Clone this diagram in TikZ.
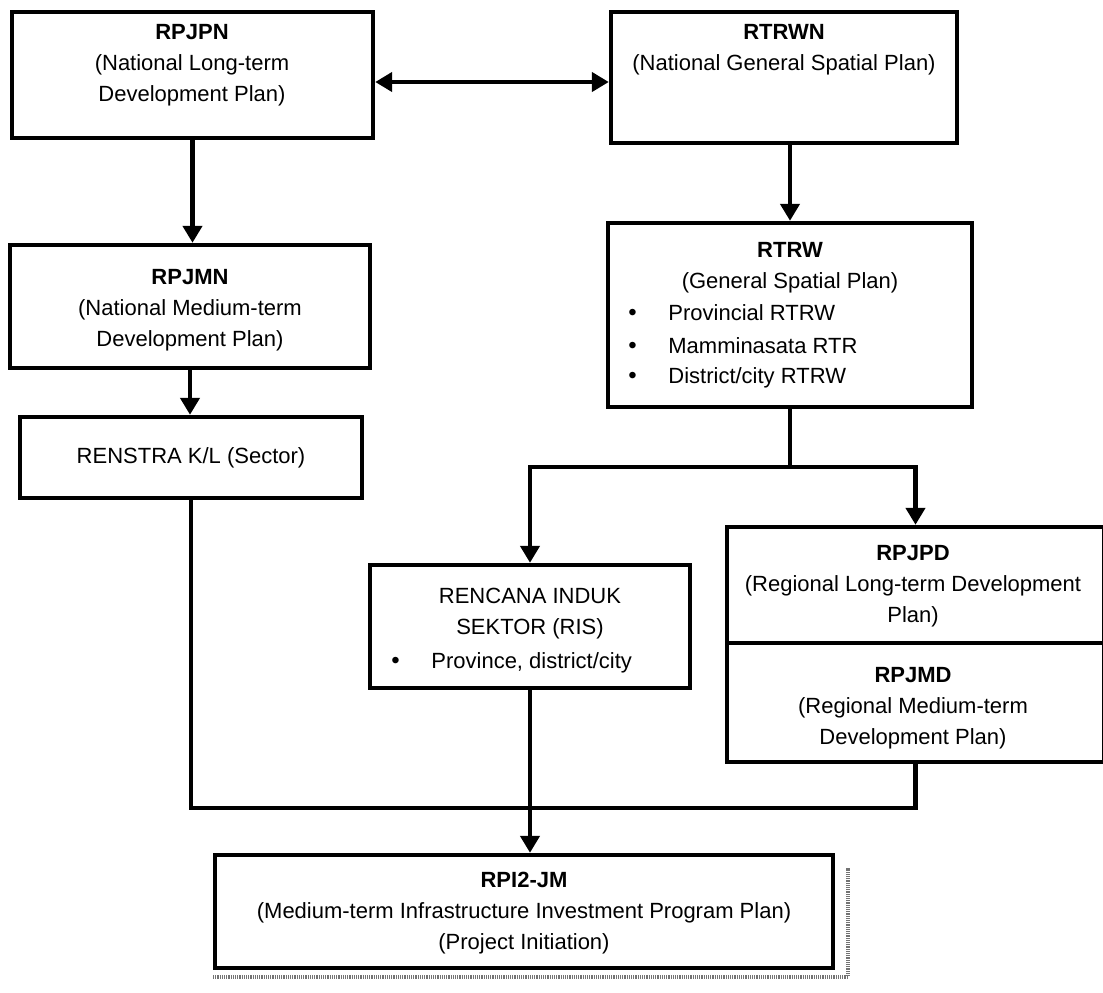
\documentclass[tikz,border=0pt]{standalone}
\usepackage{fontspec}
\setmainfont{Liberation Sans}
\usetikzlibrary{arrows.meta}
\newcommand{\bulletitem}[1]{\makebox[20pt][l]{\raisebox{0.2pt}{\fontsize{12}{15.5}\selectfont•}}#1}
\begin{document}
\begin{tikzpicture}[x=0.5pt,y=-0.5pt,
  box/.style={draw, line width=2.2pt, inner sep=0pt, fill=white},
  txt/.style={align=center, font=\fontsize{11}{15.5}\selectfont, inner sep=0pt},
  item/.style={anchor=west, font=\fontsize{11}{15.5}\selectfont, inner sep=0pt},
  link/.style={line width=2.2pt, line join=miter},
  arr/.style={link, -{Triangle[length=8.5pt,width=9.5pt]}},
  shade/.style={black!55, line width=2.4pt, dash pattern=on 0.6pt off 0.5pt},
]
\useasboundingbox (0,0) rectangle (1103,992);

% national level
\node[box, minimum width=180.5pt, minimum height=63pt] (rpjpn) at (192.5,75) {};
\node[txt] (rpjpnT) at (192,65) {\textbf{RPJPN}\\(National Long-term\\Development Plan)};

\node[box, minimum width=173pt, minimum height=65.5pt] (rtrwn) at (784,77.5) {};
\node[txt] (rtrwnT) at (784,50) {\textbf{RTRWN}\\(National General Spatial Plan)};

\node[box, minimum width=180pt, minimum height=61.5pt] (rpjmn) at (190,306.5) {};
\node[txt] (rpjmnT) at (190,310) {\textbf{RPJMN}\\(National Medium-term\\Development Plan)};

\node[box, minimum width=171pt, minimum height=40.5pt] (renstra) at (191,457.5) {};
\node[txt] (renstraT) at (191,458) {RENSTRA K/L (Sector)};

% spatial plans
\node[box, minimum width=182pt, minimum height=92pt] (rtrw) at (790,315) {};
\node[txt] (rtrwT) at (790,268) {\textbf{RTRW}\\(General Spatial Plan)};
\node[item] (rtrwI1) at (628,313) {\bulletitem{Provincial RTRW}};
\node[item] (rtrwI2) at (628,346) {\bulletitem{Mamminasata RTR}};
\node[item] (rtrwI3) at (628,378) {\bulletitem{District/city RTRW}};

\node[box, minimum width=160pt, minimum height=61.5pt] (ris) at (530,626.5) {};
\node[txt] (risT) at (530,614) {RENCANA INDUK\\SEKTOR (RIS)};
\node[item] (risI) at (391,663) {\bulletitem{Province, district/city}};

% regional plans
\node[box, minimum width=188.5pt, minimum height=58pt] (rpjpd) at (915.5,585) {};
\node[txt] (rpjpdT) at (913,586) {\textbf{RPJPD}\\(Regional Long-term Development\\Plan)};
\node[box, minimum width=188.5pt, minimum height=59.5pt] (rpjmd) at (915.5,702.5) {};
\node[txt] (rpjmdT) at (913,708) {\textbf{RPJMD}\\(Regional Medium-term\\Development Plan)};

% investment programme
\draw[shade] (213,977) -- (848,977) -- (848,868);
\node[box, minimum width=309pt, minimum height=56.5pt] (rpi) at (524,911.5) {};
\node[txt] (rpiT) at (524,913) {\textbf{RPI2-JM}\\(Medium-term Infrastructure Investment Program Plan)\\(Project Initiation)};

% connectors
\coordinate (pair) at (490,82);
\draw[link, {Triangle[length=8.5pt,width=9.5pt]}-{Triangle[length=8.5pt,width=9.5pt]}]
  (rpjpn.east |- pair) -- (rtrwn.west |- pair);
\draw[arr] (rpjpn.south) -- (rpjpn.south |- rpjmn.north);
\draw[arr] (rpjmn.south) -- (rpjmn.south |- renstra.north);
\draw[arr] (rtrw.north |- rtrwn.south) -- (rtrw.north);

\coordinate (split) at (790,467);
\draw[link] (rtrw.south) -- (split);
\draw[arr] (split) -| (ris.north);
\draw[arr] (split) -| (rpjpd.north);

\coordinate (bus) at (530,808);
\draw[link] (renstra.south) |- (bus) -| (rpjmd.south);
\draw[arr] (ris.south) -- (ris.south |- rpi.north);
\end{tikzpicture}
\end{document}
